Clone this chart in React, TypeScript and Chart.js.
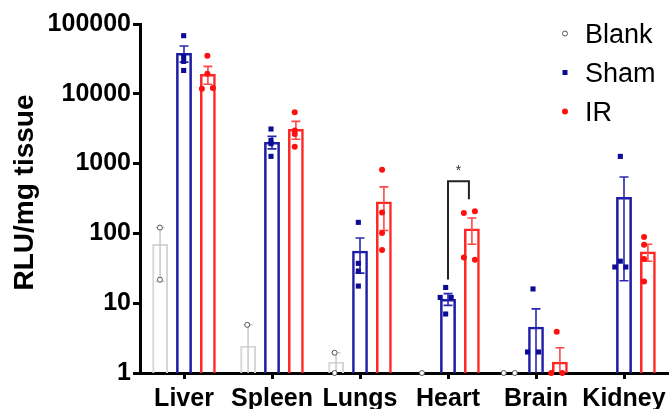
import React, { useEffect, useRef } from 'react';
import { Chart, registerables } from 'chart.js';

Chart.register(...registerables);

// ---------------- data ----------------
const categories = ['Liver', 'Spleen', 'Lungs', 'Heart', 'Brain', 'Kidney'];
const seriesLabels = ['Blank', 'Sham', 'IR'];
const yTickValues = [1, 10, 100, 1000, 10000, 100000];
const yAxisTitle = 'RLU/mg tissue';

const blankMean = [70.5, 2.46, 1.45, null, null, null];
const blankSem = [50, 2.44, 0.5, null, null, null];
const shamMean = [38400, 2040, 56.5, 11.5, 4.6, 332];
const shamSem = [10000, 414, 29.5, 2.2, 3.7, 311];
const irMean = [19200, 3130, 287, 118, 1.45, 55];
const irSem = [5500, 894, 177, 48, 0.85, 15];

const blankPoints = [[121, 21.7], [4.9], [1.95, 1], [1], [1, 1], []];
const shamPoints = [
  [68000, 34300, 29100, 21600],
  [3130, 2140, 1930, 1270],
  [144, 37.2, 28.9, 17.6],
  [16.8, 12.1, 12.1, 7],
  [16, 2, 2],
  [1268, 33, 40, 33],
];
const irPoints = [
  [35100, 19400, 11830, 12100],
  [5420, 2990, 2650, 1746],
  [818, 200, 101, 58],
  [196, 207, 45, 42],
  [3.9, 1, 1],
  [88.8, 68.9, 43, 20.5],
];

// significance bracket: Heart, Sham vs IR
const sigCategory = 3;
const sigFrom = 1;
const sigTo = 2;
const sigLabel = '*';

// ---------------- styles ----------------
const FONT = '"Liberation Sans", Arial, Helvetica, sans-serif';
const CAT_PCT = 0.815;
const BAR_PCT = 0.66;
const SLOT = CAT_PCT / 3;
const JITTER = 0.063;
const PAD = { top: 24, right: 1, bottom: 36, left: 140 };

const STYLES = [
  { bar: '#d6d6d6', err: '#cdcdcd', pBorder: '#555555', pFill: '#ffffff', shape: 'circle', radius: 2.5, pbw: 1, bw: 2 },
  { bar: '#1d1da6', err: '#2a2ab0', pBorder: '#0b0b96', pFill: '#0b0b96', shape: 'rect', radius: 3.6, pbw: 0, bw: 2.5 },
  { bar: '#ff2626', err: '#ff4848', pBorder: '#ff1010', pFill: '#ff1010', shape: 'circle', radius: 3, pbw: 0, bw: 2.5 },
];

const means = [blankMean, shamMean, irMean];
const sems = [blankSem, shamSem, irSem];
const points = [blankPoints, shamPoints, irPoints];

function spread(values: number[]): number[] {
  const offs = values.map(() => 0);
  const used = values.map(() => false);
  for (let i = 0; i < values.length; i++) {
    if (used[i]) continue;
    const group = [i];
    used[i] = true;
    for (let j = i + 1; j < values.length; j++) {
      if (!used[j] && Math.abs(Math.log10(values[j]) - Math.log10(values[i])) < 0.04) {
        group.push(j);
        used[j] = true;
      }
    }
    const n = group.length;
    group.forEach((g, k) => {
      offs[g] = n === 1 ? 0 : -1 + (2 * k) / (n - 1);
    });
  }
  return offs;
}

const errorBarPlugin = {
  id: 'errorBars',
  afterDatasetDraw(chart: any, args: any) {
    const ds = chart.data.datasets[args.index];
    if (!ds.sem) return;
    const st = STYLES[ds.seriesIndex];
    const y = chart.scales.y;
    const ctx = chart.ctx;
    const area = chart.chartArea;
    ctx.save();
    ctx.strokeStyle = st.err;
    ctx.lineWidth = 1.6;
    args.meta.data.forEach((el: any, i: number) => {
      const m = ds.data[i];
      const s = ds.sem[i];
      if (m == null || s == null) return;
      const x = el.x;
      const yTop = y.getPixelForValue(m + s);
      const lowVal = m - s;
      const yBot = lowVal > y.min ? y.getPixelForValue(lowVal) : area.bottom;
      ctx.beginPath();
      ctx.moveTo(x, yTop);
      ctx.lineTo(x, yBot);
      ctx.moveTo(x - 4.5, yTop);
      ctx.lineTo(x + 4.5, yTop);
      if (lowVal > y.min) {
        ctx.moveTo(x - 4.5, yBot);
        ctx.lineTo(x + 4.5, yBot);
      }
      ctx.stroke();
    });
    ctx.restore();
  },
};

const significancePlugin = {
  id: 'significance',
  afterDatasetsDraw(chart: any) {
    const y = chart.scales.y;
    const a = chart.getDatasetMeta(sigFrom).data[sigCategory];
    const b = chart.getDatasetMeta(sigTo).data[sigCategory];
    if (!a || !b) return;
    const aTop = Math.max(...points[sigFrom][sigCategory]);
    const bTop = Math.max(...points[sigTo][sigCategory]);
    const ya = y.getPixelForValue(aTop) - 8;
    const yb = y.getPixelForValue(bTop) - 12;
    const yt = Math.min(ya, yb) - 18;
    const xa = a.x;
    const xb = b.x - 3;
    const ctx = chart.ctx;
    ctx.save();
    ctx.strokeStyle = '#222222';
    ctx.lineWidth = 2;
    ctx.beginPath();
    ctx.moveTo(xa, ya);
    ctx.lineTo(xa, yt);
    ctx.lineTo(xb, yt);
    ctx.lineTo(xb, yb);
    ctx.stroke();
    ctx.fillStyle = '#333333';
    ctx.font = `14px ${FONT}`;
    ctx.textAlign = 'center';
    ctx.textBaseline = 'alphabetic';
    ctx.fillText(sigLabel, (xa + xb) / 2, yt - 6);
    ctx.restore();
  },
};

const axisTitlePlugin = {
  id: 'axisTitle',
  afterDraw(chart: any) {
    const { ctx, chartArea } = chart;
    ctx.save();
    ctx.translate(25, (chartArea.top + chartArea.bottom) / 2 - 6);
    ctx.rotate(-Math.PI / 2);
    ctx.fillStyle = '#000000';
    ctx.font = `bold 28px ${FONT}`;
    ctx.textAlign = 'center';
    ctx.textBaseline = 'middle';
    ctx.fillText(yAxisTitle, 0, 0);
    ctx.restore();
  },
};

const legendPlugin = {
  id: 'customLegend',
  afterDraw(chart: any) {
    const { ctx, chartArea } = chart;
    const mx = chartArea.right - 103;
    const tx = chartArea.right - 83;
    const size = 27;
    ctx.save();
    seriesLabels.forEach((label, i) => {
      const st = STYLES[i];
      const cy = chartArea.top + 9.5 + i * 39;
      ctx.beginPath();
      if (st.shape === 'rect') {
        ctx.fillStyle = st.pFill;
        ctx.fillRect(mx - 2.5, cy - 2.5, 5, 5);
      } else {
        ctx.arc(mx, cy, st.radius, 0, Math.PI * 2);
        ctx.fillStyle = st.pFill;
        ctx.fill();
        if (st.pbw) {
          ctx.lineWidth = st.pbw;
          ctx.strokeStyle = st.pBorder;
          ctx.stroke();
        }
      }
      ctx.fillStyle = '#000000';
      ctx.font = `${size}px ${FONT}`;
      ctx.textAlign = 'left';
      ctx.textBaseline = 'alphabetic';
      ctx.fillText(label, tx, cy + size * 0.36);
    });
    ctx.restore();
  },
};

export default function App() {
  const barRef = useRef<HTMLCanvasElement>(null);
  const ptRef = useRef<HTMLCanvasElement>(null);

  useEffect(() => {
    if (!barRef.current || !ptRef.current) return;

    const barDatasets = seriesLabels.map((label, d) => ({
      label,
      data: means[d],
      sem: sems[d],
      seriesIndex: d,
      backgroundColor: 'rgba(255,255,255,0)',
      borderColor: STYLES[d].bar,
      borderWidth: STYLES[d].bw,
      categoryPercentage: CAT_PCT,
      barPercentage: BAR_PCT,
    }));

    const barChart = new Chart(barRef.current, {
      type: 'bar',
      data: { labels: categories, datasets: barDatasets as any },
      plugins: [errorBarPlugin, significancePlugin, axisTitlePlugin, legendPlugin],
      options: {
        responsive: false,
        animation: false,
        events: [],
        layout: { padding: { top: PAD.top, right: PAD.right, bottom: 0, left: 0 } },
        plugins: {
          legend: { display: false },
          tooltip: { enabled: false },
        },
        scales: {
          x: {
            type: 'category',
            position: 'bottom',
            offset: true,
            grid: {
              display: true,
              drawOnChartArea: false,
              drawTicks: true,
              tickLength: 6,
              tickWidth: 3,
              tickColor: '#000000',
              offset: false,
            },
            border: { display: true, color: '#000000', width: 3 },
            ticks: {
              color: '#000000',
              font: { family: FONT, size: 25, weight: 'bold' },
              padding: 5,
              maxRotation: 0,
              autoSkip: false,
            },
            afterFit: (s: any) => {
              s.height = PAD.bottom;
              s.paddingLeft = 0;
              s.paddingRight = 0;
            },
          },
          y: {
            type: 'logarithmic',
            min: 1,
            max: 100000,
            afterBuildTicks: (s: any) => {
              s.ticks = yTickValues.map((v) => ({ value: v }));
            },
            grid: {
              display: true,
              drawOnChartArea: false,
              drawTicks: true,
              tickLength: 7,
              tickWidth: 3,
              tickColor: '#000000',
            },
            border: { display: true, color: '#000000', width: 3 },
            ticks: {
              color: '#000000',
              font: { family: FONT, size: 25, weight: 'bold' },
              padding: 2,
              callback: (v: any) => String(v),
            },
            title: { display: false, text: yAxisTitle },
            afterFit: (s: any) => {
              s.width = PAD.left;
              s.paddingTop = 0;
              s.paddingBottom = 0;
            },
          },
        },
      } as any,
    });

    const pointDatasets = seriesLabels.map((label, d) => ({
      label,
      data: points[d].flatMap((vals, i) => {
        const o = spread(vals);
        return vals.map((v, k) => ({ x: i + (d - 1) * SLOT + o[k] * JITTER, y: v }));
      }),
      pointStyle: STYLES[d].shape,
      pointRadius: STYLES[d].radius,
      pointBackgroundColor: STYLES[d].pFill,
      pointBorderColor: STYLES[d].pBorder,
      pointBorderWidth: STYLES[d].pbw,
      showLine: false,
      clip: false,
    }));

    const pointChart = new Chart(ptRef.current, {
      type: 'scatter',
      data: { datasets: pointDatasets as any },
      options: {
        responsive: false,
        animation: false,
        events: [],
        layout: { padding: { top: PAD.top, right: PAD.right, bottom: PAD.bottom, left: PAD.left } },
        plugins: {
          legend: { display: false },
          tooltip: { enabled: false },
        },
        scales: {
          x: { type: 'linear', display: false, offset: false, min: -0.5, max: 5.5 },
          y: { type: 'logarithmic', display: false, min: 1, max: 100000 },
        },
      } as any,
    });

    return () => {
      barChart.destroy();
      pointChart.destroy();
    };
  }, []);

  return (
    <div style={{ position: 'absolute', left: 0, top: 0, width: 669, height: 409, background: '#ffffff' }}>
      <canvas ref={barRef} width={669} height={409} style={{ display: 'block', position: 'absolute', left: 0, top: 0 }} />
      <canvas ref={ptRef} width={669} height={409} style={{ display: 'block', position: 'absolute', left: 0, top: 0 }} />
    </div>
  );
}
